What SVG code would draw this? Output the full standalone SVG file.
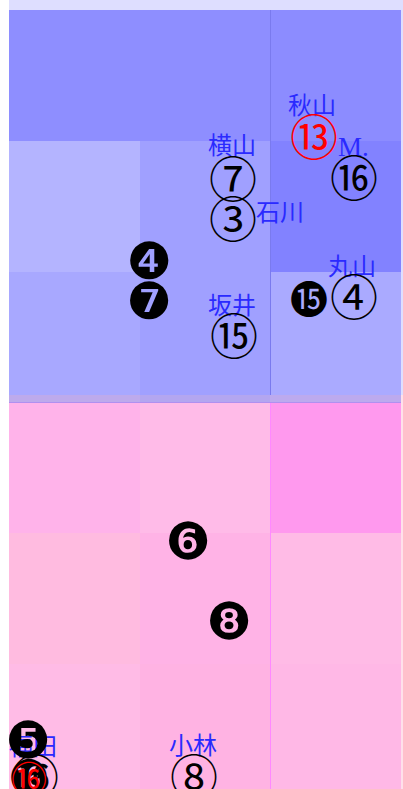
<svg xmlns="http://www.w3.org/2000/svg" width="403" height="789" viewBox="0 0 403 789">
<style>
.lbl{font-family:"Noto Sans CJK JP","Noto Sans CJK SC",sans-serif;font-size:24px;fill:#2a2aff;text-anchor:middle}
.lat{font-family:"Liberation Serif",serif;font-size:27px;fill:#2a2aff}
.cn{font-family:"Noto Sans CJK JP",serif;font-size:48px;fill:#000;text-anchor:middle;dominant-baseline:central}
.bn{font-family:"DejaVu Serif","DejaVu Sans","Noto Sans CJK JP",serif;font-size:51px;fill:#000;text-anchor:middle;dominant-baseline:central}
.bn2{font-family:"DejaVu Sans","Noto Sans CJK JP",sans-serif;font-size:38px;fill:#000;text-anchor:middle;dominant-baseline:central}
</style>
<g id="background">
<rect x="9" y="0" width="394" height="403" fill="#dedeff"/>
<rect x="9" y="395" width="394" height="394" fill="#ffe0ea"/>
</g>
<g id="blue-panels">
<rect x="9" y="10" width="131" height="131" fill="#8e8eff"/>
<rect x="140" y="10" width="130" height="131" fill="#8e8eff"/>
<rect x="270" y="10" width="131" height="131" fill="#8c8cff"/>
<rect x="9" y="141" width="131" height="131" fill="#b4b4ff"/>
<rect x="140" y="141" width="130" height="131" fill="#a0a0ff"/>
<rect x="270" y="141" width="131" height="131" fill="#8282ff"/>
<rect x="9" y="272" width="131" height="123" fill="#a8a8ff"/>
<rect x="140" y="272" width="130" height="123" fill="#a0a0ff"/>
<rect x="270" y="272" width="131" height="123" fill="#aaaaff"/>
<line x1="270.5" y1="10" x2="270.5" y2="402" stroke="#7a7aee" stroke-width="1"/>
</g>
<g id="overlap">
<rect x="9" y="395" width="131" height="8" fill="#bdaaec"/>
<rect x="140" y="395" width="130" height="8" fill="#b3a6f0"/>
<rect x="270" y="395" width="131" height="8" fill="#bcaaee"/>
<line x1="9" y1="402.5" x2="401" y2="402.5" stroke="#b090f0" stroke-width="1"/>
</g>
<g id="pink-panels">
<rect x="9" y="403" width="131" height="130" fill="#ffb3ea"/>
<rect x="140" y="403" width="130" height="130" fill="#ffbbe8"/>
<rect x="270" y="403" width="131" height="130" fill="#ff99ee"/>
<rect x="9" y="533" width="131" height="131" fill="#ffbbe0"/>
<rect x="140" y="533" width="130" height="131" fill="#ffb3e6"/>
<rect x="270" y="533" width="131" height="131" fill="#ffbbe6"/>
<rect x="9" y="664" width="131" height="125" fill="#ffbbe6"/>
<rect x="140" y="664" width="130" height="125" fill="#ffb3e3"/>
<rect x="270" y="664" width="131" height="125" fill="#ffb8e6"/>
<line x1="270.5" y1="403" x2="270.5" y2="789" stroke="#ff88ff" stroke-width="1"/>
</g>
<g id="seat-akiyama"><text class="lbl" x="312" y="114">秋山</text><text class="cn" x="314" y="134" style="fill:#ff0000">⑬</text></g>
<g id="seat-m"><text class="lat" x="338" y="156">M.</text><text class="cn" x="354" y="175">⑯</text></g>
<g id="seat-yokoyama"><text class="lbl" x="232" y="154">横山</text><text class="cn" x="233" y="176">⑦</text></g>
<g id="seat-ishikawa"><text class="cn" x="233" y="216">③</text><text class="lbl" x="280" y="221">石川</text></g>
<g id="seat-b4"><text class="bn" x="149" y="261">❹</text></g>
<g id="seat-b7"><text class="bn" x="149" y="301">❼</text></g>
<g id="seat-maruyama"><text class="lbl" x="352" y="275">丸山</text><text class="cn" x="354" y="294">④</text></g>
<g id="seat-b15"><text class="bn2" x="309" y="300">⓯</text></g>
<g id="seat-sakai"><text class="lbl" x="232" y="314">坂井</text><text class="cn" x="234" y="333">⑮</text></g>
<g id="seat-b6"><text class="bn" x="188" y="541">❻</text></g>
<g id="seat-b8"><text class="bn" x="229" y="621">❽</text></g>
<g id="seat-fukuda"><text class="lbl" x="33" y="755">福田</text><text class="bn" x="28" y="740">❺</text></g>
<g id="seat-b16"><text class="cn" x="35" y="774">⑯</text><text class="bn2" x="29" y="778">⓰</text><text class="cn" x="29" y="777" style="fill:#ff0000;font-size:36px">⑯</text></g>
<g id="seat-kobayashi"><text class="lbl" x="193" y="754">小林</text><text class="cn" x="194" y="774">⑧</text></g>
<g id="connectors"/>
</svg>
